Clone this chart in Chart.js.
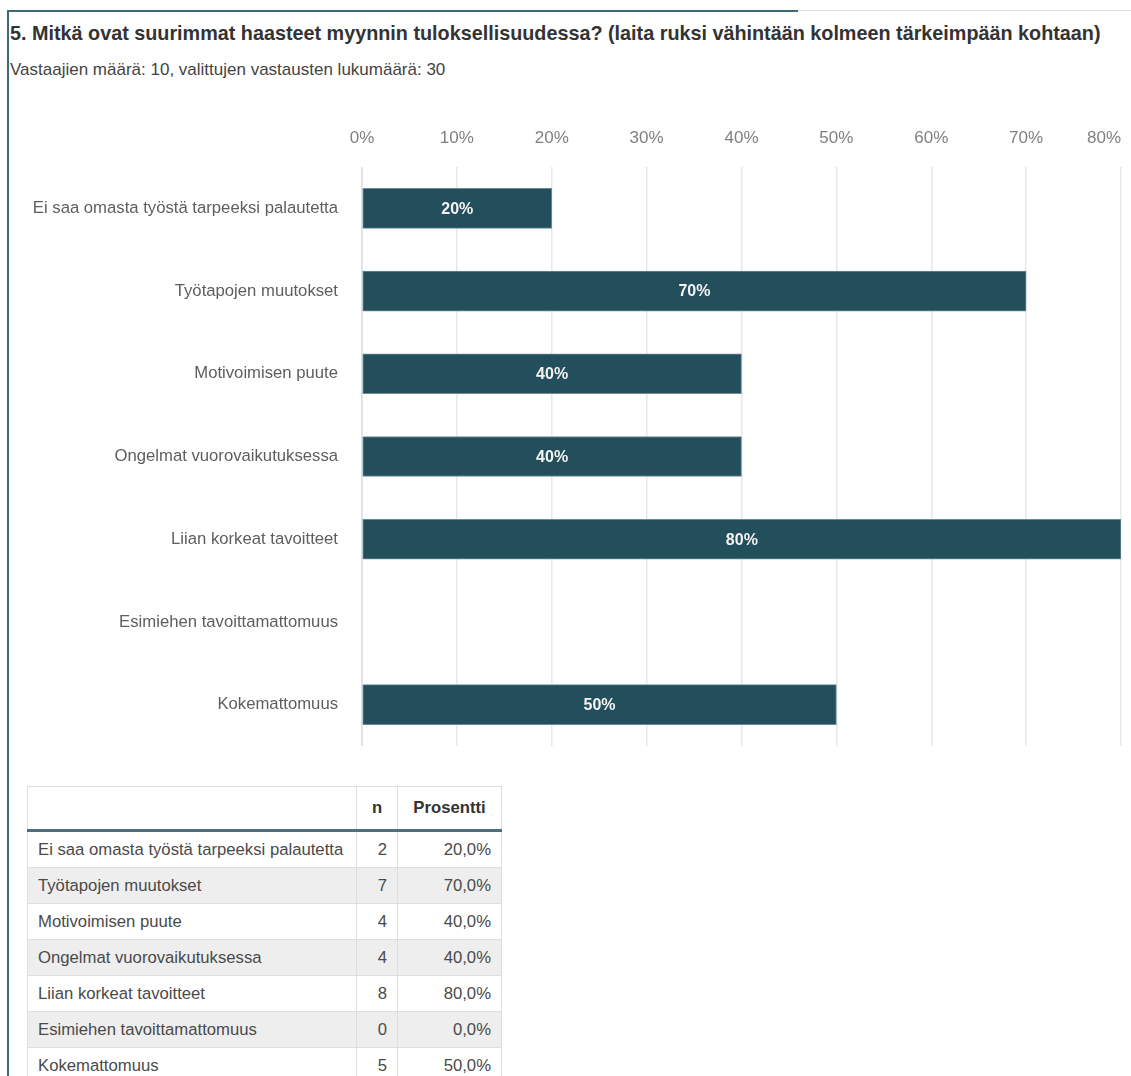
<!DOCTYPE html>
<html lang="fi">
<head>
<meta charset="UTF-8">
<title>Myynnin haasteet</title>
<script src="https://cdn.jsdelivr.net/npm/chart.js"></script>
<style>
  body { margin: 0; background: #fff; font-family: Arial, "Liberation Sans", sans-serif; }
  .page { position: relative; width: 1131px; height: 1076px; overflow: hidden; }
  .left-line { position: absolute; left: 7px; top: 10px; width: 2px; height: 1066px; background: #3d6a7b; }
  .top-line { position: absolute; left: 7px; top: 10px; width: 791px; height: 2px; background: #3d6a7b; }
  .top-line-rest { position: absolute; left: 798px; top: 10px; right: 0; height: 1px; background: #d3dde3; }
  h1 { position: absolute; left: 10px; top: 22px; margin: 0; font-size: 19.8px; line-height: 23px; font-weight: bold; color: #333; white-space: nowrap; }
  .sub { position: absolute; left: 10px; top: 60px; font-size: 17px; line-height: 20px; color: #444; white-space: nowrap; }
  #chartWrap { position: absolute; left: 10px; top: 120px; width: 1114px; height: 630px; }
  table { position: absolute; left: 27px; top: 786px; width: 474px; border-collapse: collapse; font-size: 16.7px; color: #4a4a4a; table-layout: fixed; }
  th, td { border: 1px solid #dedede; padding: 0 10px; white-space: nowrap; }
  th { height: 42px; font-weight: bold; color: #333; text-align: center; border-bottom: 3px solid #4d6f7f; }
  td { height: 35px; }
  td.num { text-align: right; }
  tr:nth-child(even) td { background: #eeeeee; }
</style>
</head>
<body>
<div class="page">
  <div class="left-line"></div>
  <div class="top-line"></div>
  <div class="top-line-rest"></div>
  <h1>5. Mitkä ovat suurimmat haasteet myynnin tuloksellisuudessa? (laita ruksi vähintään kolmeen tärkeimpään kohtaan)</h1>
  <div class="sub">Vastaajien määrä: 10, valittujen vastausten lukumäärä: 30</div>

  <div id="chartWrap"><canvas id="haasteet"></canvas></div>

  <table id="taulukko">
    <colgroup><col style="width:329px"><col style="width:41px"><col style="width:104px"></colgroup>
    <thead><tr><th></th><th>n</th><th>Prosentti</th></tr></thead>
    <tbody></tbody>
  </table>
</div>

<script>
// vastausvaihtoehdot, lukumäärät ja prosenttiosuudet
const categories = [
  'Ei saa omasta työstä tarpeeksi palautetta',
  'Työtapojen muutokset',
  'Motivoimisen puute',
  'Ongelmat vuorovaikutuksessa',
  'Liian korkeat tavoitteet',
  'Esimiehen tavoittamattomuus',
  'Kokemattomuus'
];
const counts = [2, 7, 4, 4, 8, 0, 5];
const percents = [20, 70, 40, 40, 80, 0, 50];
const xTicks = [0, 10, 20, 30, 40, 50, 60, 70, 80];

// taulukko
const tbody = document.querySelector('#taulukko tbody');
categories.forEach((c, i) => {
  const tr = document.createElement('tr');
  tr.innerHTML = '<td>' + c + '</td><td class="num">' + counts[i] + '</td><td class="num">' +
    percents[i].toFixed(1).replace('.', ',') + '%</td>';
  tbody.appendChild(tr);
});

// prosenttiluku palkin keskelle
const barLabels = {
  id: 'barLabels',
  afterDatasetsDraw(chart) {
    const ctx = chart.ctx;
    const meta = chart.getDatasetMeta(0);
    ctx.save();
    ctx.font = 'bold 16px Arial, "Liberation Sans", sans-serif';
    ctx.fillStyle = '#f4f4f4';
    ctx.textAlign = 'center';
    ctx.textBaseline = 'middle';
    meta.data.forEach((bar, i) => {
      const v = chart.data.datasets[0].data[i];
      if (!v) return;
      ctx.fillText(v + '%', (bar.x + bar.base) / 2, bar.y + 1);
    });
    ctx.restore();
  }
};

const font = { family: 'Arial, "Liberation Sans", sans-serif', size: 16.7 };

new Chart(document.getElementById('haasteet'), {
  type: 'bar',
  data: {
    labels: categories,
    datasets: [{
      data: percents,
      backgroundColor: '#234e5b',
      borderColor: '#6a8c97',
      borderWidth: 1,
      borderSkipped: false,
      barThickness: 40
    }]
  },
  options: {
    indexAxis: 'y',
    responsive: true,
    maintainAspectRatio: false,
    animation: false,
    layout: { padding: { right: 3, bottom: 4 } },
    plugins: { legend: { display: false }, tooltip: { enabled: false } },
    scales: {
      x: {
        position: 'top',
        min: 0,
        max: 80,
        border: { display: false },
        grid: {
          drawTicks: false,
          lineWidth: 1.5,
          color: c => (c.tick && c.tick.value <= 0) ? '#d9dfec' : '#e8e8e8'
        },
        ticks: {
          autoSkip: false,
          align: 'inner',
          padding: 18,
          color: '#808080',
          font: { family: font.family, size: 17 },
          callback: v => v < 0 ? '' : v + '%'
        },
        // tyhjä apumerkki alkuun, jotta 0% pysyy keskitettynä ja 80% mahtuu oikeaan reunaan
        afterBuildTicks: s => {
          s.ticks = [{ value: -1e-6 }].concat(xTicks.map(v => ({ value: v })));
        },
        afterFit: s => {
          s.height = 47;
          s.paddingLeft = 0;
          s.paddingRight = 0;
        }
      },
      y: {
        border: { display: false },
        grid: { display: false, drawTicks: false },
        ticks: { padding: 24, color: '#5e5e5e', font: font },
        afterFit: s => {
          s.width = 352;
          s.paddingTop = 0;
          s.paddingBottom = 0;
        }
      }
    }
  },
  plugins: [barLabels]
});
</script>
</body>
</html>
